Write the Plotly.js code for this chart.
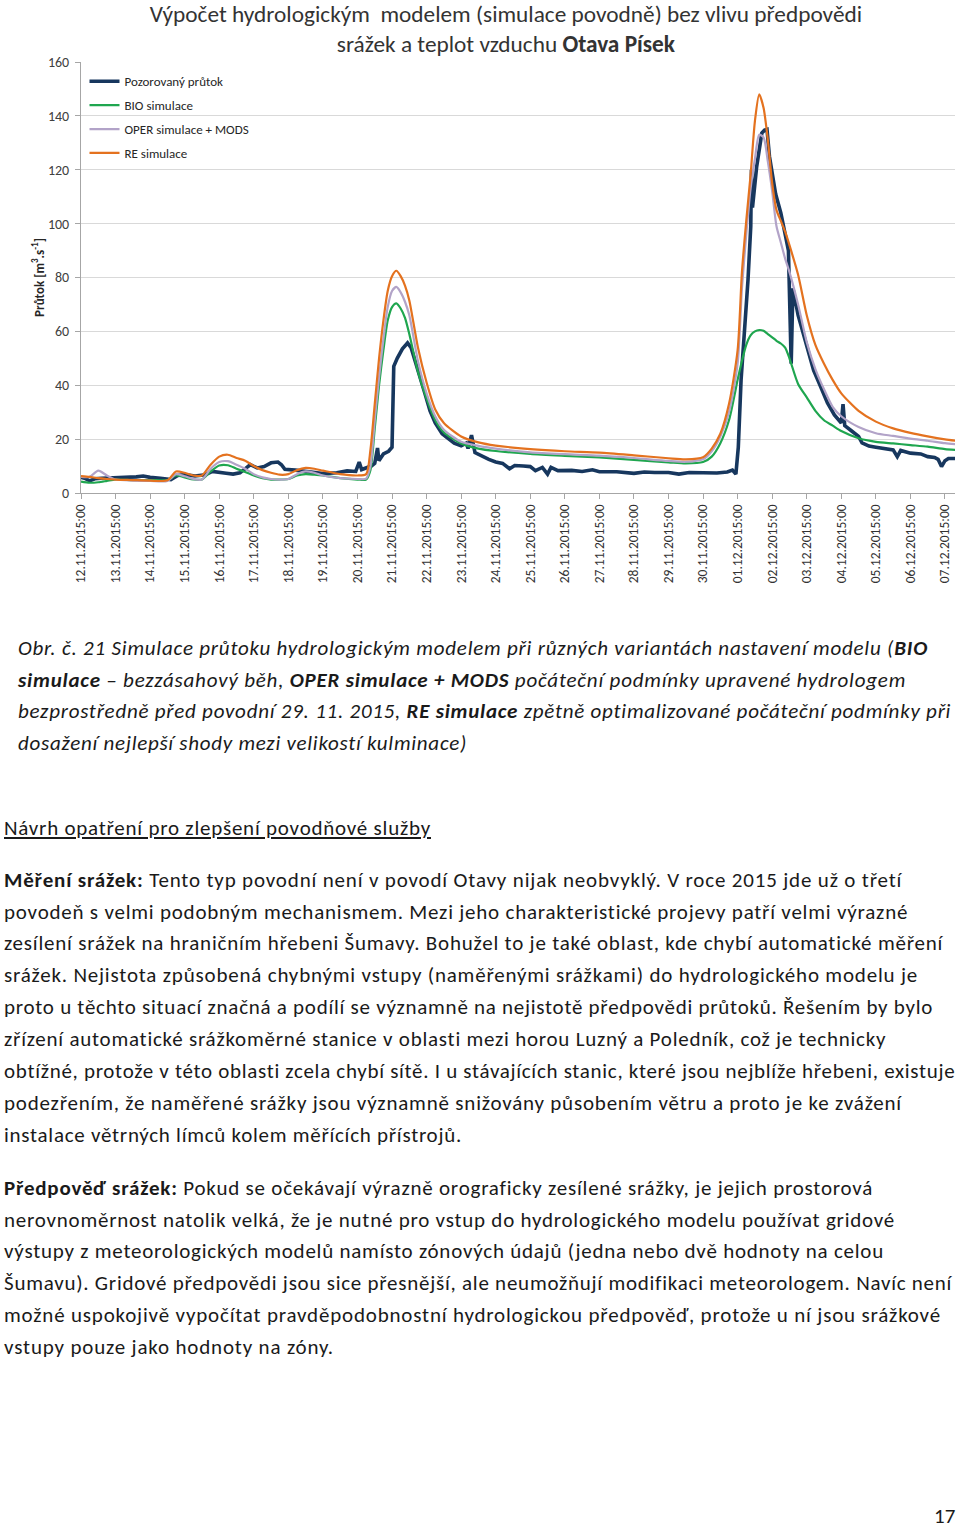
<!DOCTYPE html>
<html>
<head>
<meta charset="utf-8">
<script src="https://cdn.plot.ly/plotly-3.0.1.min.js"></script>
<style>
  html, body { margin: 0; padding: 0; background: #fff; }
  body { width: 960px; height: 1526px; position: relative; overflow: hidden; }
  #chart { position: absolute; left: 0; top: 0; width: 960px; height: 600px; }
  .ln { position: absolute; left: 4px; white-space: nowrap; font-family: Carlito, Calibri, Lato, sans-serif; font-size: 21px; color: #1a1a1a; line-height: 24px; }
  .cap { left: 18px; font-style: italic; }
  .u { text-decoration: underline; }
</style>
</head>
<body>
<div id="chart"></div>

<div class="ln cap" data-end="928" style="top:636px">Obr. č. 21 Simulace průtoku hydrologickým modelem při různých variantách nastavení modelu (<b>BIO</b></div>
<div class="ln cap" data-end="906" style="top:668px"><b>simulace</b> – bezzásahový běh, <b>OPER simulace + MODS</b> počáteční podmínky upravené hydrologem</div>
<div class="ln cap" data-end="951" style="top:699px">bezprostředně před povodní 29. 11. 2015, <b>RE simulace</b> zpětně optimalizované počáteční podmínky při</div>
<div class="ln cap" data-end="467" style="top:731px">dosažení nejlepší shody mezi velikostí kulminace)</div>

<div class="ln u" data-end="431" style="top:816px">Návrh opatření pro zlepšení povodňové služby</div>

<div class="ln" data-end="902" style="top:868px"><b>Měření srážek:</b> Tento typ povodní není v povodí Otavy nijak neobvyklý. V roce 2015 jde už o třetí</div>
<div class="ln" data-end="908" style="top:900px">povodeň s velmi podobným mechanismem. Mezi jeho charakteristické projevy patří velmi výrazné</div>
<div class="ln" data-end="943" style="top:931px">zesílení srážek na hraničním hřebeni Šumavy. Bohužel to je také oblast, kde chybí automatické měření</div>
<div class="ln" data-end="918" style="top:963px">srážek. Nejistota způsobená chybnými vstupy (naměřenými srážkami) do hydrologického modelu je</div>
<div class="ln" data-end="933" style="top:995px">proto u těchto situací značná a podílí se významně na nejistotě předpovědi průtoků. Řešením by bylo</div>
<div class="ln" data-end="886" style="top:1027px">zřízení automatické srážkoměrné stanice v oblasti mezi horou Luzný a Poledník, což je technicky</div>
<div class="ln" data-end="955" style="top:1059px">obtížné, protože v této oblasti zcela chybí sítě. I u stávajících stanic, které jsou nejblíže hřebeni, existuje</div>
<div class="ln" data-end="902" style="top:1091px">podezřením, že naměřené srážky jsou významně snižovány působením větru a proto je ke zvážení</div>
<div class="ln" data-end="462" style="top:1123px">instalace větrných límců kolem měřících přístrojů.</div>

<div class="ln" data-end="873" style="top:1176px"><b>Předpověď srážek:</b> Pokud se očekávají výrazně orograficky zesílené srážky, je jejich prostorová</div>
<div class="ln" data-end="895" style="top:1208px">nerovnoměrnost natolik velká, že je nutné pro vstup do hydrologického modelu používat gridové</div>
<div class="ln" data-end="884" style="top:1239px">výstupy z meteorologických modelů namísto zónových údajů (jedna nebo dvě hodnoty na celou</div>
<div class="ln" data-end="952" style="top:1271px">Šumavu). Gridové předpovědi jsou sice přesnější, ale neumožňují modifikaci meteorologem. Navíc není</div>
<div class="ln" data-end="941" style="top:1303px">možné uspokojivě vypočítat pravděpodobnostní hydrologickou předpověď, protože u ní jsou srážkové</div>
<div class="ln" data-end="334" style="top:1335px">vstupy pouze jako hodnoty na zóny.</div>

<div class="ln" style="top:1507px; left:934px; line-height:18px">17</div>

<script>
// ---- data (time in days after 12.11.2015 00:00, flow in m3/s) ----
const tickLabels = ["12.11.2015:00","13.11.2015:00","14.11.2015:00","15.11.2015:00","16.11.2015:00",
  "17.11.2015:00","18.11.2015:00","19.11.2015:00","20.11.2015:00","21.11.2015:00","22.11.2015:00",
  "23.11.2015:00","24.11.2015:00","25.11.2015:00","26.11.2015:00","27.11.2015:00","28.11.2015:00",
  "29.11.2015:00","30.11.2015:00","01.12.2015:00","02.12.2015:00","03.12.2015:00","04.12.2015:00",
  "05.12.2015:00","06.12.2015:00","07.12.2015:00"];

const seriesNames = ["Pozorovaný průtok", "BIO simulace", "OPER simulace + MODS", "RE simulace"];

const simDay = [0,0.25,0.5,0.75,1,1.5,2,2.5,2.75,3,3.25,3.5,3.75,4,4.25,4.5,4.75,5,5.25,5.5,5.75,6,6.25,6.5,6.75,7,7.5,8,8.25,
  8.375,8.5,8.625,8.75,8.875,9,9.125,9.25,9.375,9.5,9.75,10,10.25,10.5,11,11.5,12,13,14,15,16,17,17.5,18,18.25,18.5,18.75,
  19,19.125,19.25,19.375,19.5,19.625,19.75,19.875,20,20.125,20.25,20.375,20.5,20.75,21,21.25,21.5,21.75,22,22.5,23,23.5,24,24.5,25,25.3];

const reSim = [6.3,6.0,5.5,5.2,5.0,4.8,4.6,4.7,8.0,7.5,6.5,6.5,10.5,13.5,14.2,13.0,12.0,10.0,8.5,7.5,6.8,7.0,8.5,9.3,9.0,8.3,7.0,6.5,7.0,
  16,33,50,64,75,80.5,82.5,80.5,77,71.5,54,41,31,26,21,18.8,17.6,16.3,15.5,15.0,14.0,12.9,12.5,13.3,16.5,22,33,
  53,82,101,118,138,148,143,131,115,105,101,97,92,81,66,55,48,42,37,30.5,26.5,24,22.3,21,19.9,19.4];

const operSim = [6.0,6.0,8.3,6.5,5.0,4.6,4.5,4.5,7.0,6.2,5.2,5.0,9.0,11.5,11.8,10.5,9.0,7.0,5.8,5.2,5.0,5.2,7.0,8.0,7.5,6.5,5.5,5.2,5.3,
  10,27,43,57,69,75,76.5,74.5,71,66,49,37,28.5,23.5,19,17.5,16.5,15.1,14.4,13.9,13.0,11.9,11.6,12.5,15.5,21,30,
  48,76,96,113,124,133,132,123,112,99,93,87,82,70,56,46,38.5,32,28.5,24.5,22.2,21.2,20.2,19.4,18.5,18.1];

const bioSim = [4.2,3.8,4.0,4.5,5.0,4.8,4.8,4.8,6.5,5.8,5.0,5.0,8.0,10.2,10.3,9.0,7.8,6.5,5.5,5.0,5.0,5.2,6.5,7.0,6.8,6.5,5.5,5.0,5.0,
  8.5,24,40,53,64,69,70.4,68.5,65,59,45,35,27,22.5,18.4,16.5,15.6,14.5,13.8,13.2,12.3,11.4,11.0,11.5,13.5,18.5,27,
  42,49,55,58.5,60,60.5,60.2,59,57.8,56.5,55.5,54,50,40.5,35.5,30.5,27,25,23,20.3,19,18.4,17.8,17.2,16.3,16.0];

const obsDay = [0,0.1,0.25,0.4,0.6,0.8,1,1.3,1.6,1.8,2,2.3,2.6,2.8,3,3.3,3.6,3.8,4,4.2,4.4,4.6,4.8,4.9,5.1,5.3,5.5,5.7,5.8,5.9,
  6.2,6.6,7,7.4,7.7,7.95,8.05,8.12,8.3,8.4,8.5,8.58,8.62,8.75,8.9,9.0,9.05,9.15,9.3,9.45,9.55,9.75,9.95,10.1,10.25,10.45,10.6,10.8,
  11,11.15,11.2,11.3,11.4,11.55,11.8,12,12.2,12.4,12.55,12.8,13,13.15,13.35,13.5,13.6,13.8,14.2,14.5,14.8,15,15.5,16,16.3,16.6,
  17,17.3,17.6,18,18.4,18.7,18.85,18.95,19.02,19.1,19.2,19.3,19.38,19.4,19.43,19.55,19.7,19.78,19.85,19.92,20.1,20.25,20.4,20.47,
  20.55,20.6,20.75,21,21.2,21.4,21.6,21.8,22,22.05,22.1,22.3,22.5,22.6,22.8,23,23.3,23.5,23.62,23.72,24,24.3,24.5,24.7,24.8,24.9,
  25,25.1,25.3];

const obsFlow = [5.8,5.5,4.5,5.3,5.5,5.6,5.5,5.8,6.0,6.3,5.8,5.5,5.0,6.5,6.8,6.3,6.8,8.0,7.8,7.3,7.0,7.5,9.5,10.5,9.3,9.8,11.2,11.5,10.5,8.8,
  8.5,8.0,7.2,7.5,8.2,8.0,11.5,8.7,9.5,10.0,11,16.7,12,14.5,15.5,17,47,50,53.5,55.7,54,45,37,30.5,26,22,20.5,18.5,
  17.5,18.5,16.5,21.5,15,14,12.5,11.5,11.0,9.0,10.2,10.0,9.8,8.3,9.5,7.0,9.5,8.3,8.4,8.0,8.6,7.9,7.9,7.3,7.8,7.6,
  7.6,7.0,7.6,7.5,7.4,7.8,8.5,7.0,17,42,60,79,99,120,106,121,133.6,134.7,135,125,111,104,94.5,90,
  48,76,66,55,45.5,39.5,33.4,29,26,33,25,23,21,18.6,17.4,17,16.5,16.0,13.5,15.8,14.8,14.5,13.5,13.2,12.5,9.8,
  12,12.8,12.8];

// ---- plotting ----
const base = Date.UTC(2015, 10, 12);
const DAY = 864e5;
const toT = arr => arr.map(d => base + d * DAY);

const font = "Carlito, Calibri, Lato, sans-serif";
const traces = [
  { x: toT(obsDay), y: obsFlow, name: seriesNames[0], mode: "lines", legendgroup: "a",
    line: { color: "#17375e", width: 3.6 } },
  { x: toT(simDay), y: bioSim, name: seriesNames[1], mode: "lines", legendgroup: "b",
    line: { color: "#1fa64f", width: 2.2, shape: "spline", smoothing: 0.7 } },
  { x: toT(simDay), y: operSim, name: seriesNames[2], mode: "lines", legendgroup: "c",
    line: { color: "#b2a3c8", width: 2.2, shape: "spline", smoothing: 0.7 } },
  { x: toT(simDay), y: reSim, name: seriesNames[3], mode: "lines", legendgroup: "d",
    line: { color: "#e4721f", width: 2.2, shape: "spline", smoothing: 0.7 } }
];

const tickvals = tickLabels.map((_, i) => base + i * DAY);

const layout = {
  width: 960, height: 600,
  margin: { l: 81, r: 5, t: 62, b: 107 },
  paper_bgcolor: "#fff", plot_bgcolor: "#fff",
  font: { family: font, color: "#404040" },
  title: {
    text: "Výpočet hydrologickým  modelem (simulace povodně) bez vlivu předpovědi<br>srážek a teplot vzduchu <b>Otava Písek</b>",
    font: { family: font, size: 23.3, color: "#333", weight: 300 },
    x: 0.527, xanchor: "center", xref: "container",
    y: 0.963, yanchor: "top", yref: "container"
  },
  showlegend: true,
  legend: {
    x: 0.004, y: 0.99, xanchor: "left", yanchor: "top",
    bgcolor: "rgba(255,255,255,0)", font: { family: font, size: 13, color: "#262626" },
    tracegroupgap: 4, traceorder: "grouped"
  },
  xaxis: {
    type: "date",
    range: [base, base + 25.29 * DAY],
    tickmode: "array", tickvals: tickvals, ticktext: tickLabels,
    tickangle: -90, tickfont: { family: font, size: 13.5, color: "#333" },
    showgrid: false, zeroline: false,
    showline: true, linecolor: "#a6a6a6", linewidth: 1,
    ticks: "outside", ticklen: 5, tickcolor: "#a6a6a6"
  },
  yaxis: {
    range: [0, 160], dtick: 20, tick0: 0,
    tickfont: { family: font, size: 14, color: "#404040" },
    ticklabelstandoff: 3,
    showgrid: true, gridcolor: "#d9d9d9", gridwidth: 1, zeroline: false,
    showline: true, linecolor: "#a6a6a6", linewidth: 1,
    ticks: "outside", ticklen: 5, tickcolor: "#a6a6a6",
    title: { text: "<b>Průtok [m<sup>3</sup>.s<sup>-1</sup>]</b>", font: { family: font, size: 13, color: "#262626" }, standoff: 0 }
  }
};

Plotly.newPlot("chart", traces, layout, { staticPlot: true, displayModeBar: false });

// fit each text line to the width it has in the reference page
function fitLines() {
  document.querySelectorAll(".ln[data-end]").forEach(el => {
    el.style.letterSpacing = "0px";
    const left = el.offsetLeft;
    const target = parseFloat(el.dataset.end) - left;
    const w = el.getBoundingClientRect().width;
    const n = el.textContent.length;
    if (n > 1) el.style.letterSpacing = ((target - w) / n).toFixed(3) + "px";
  });
}
if (document.fonts && document.fonts.ready) document.fonts.ready.then(fitLines); else fitLines();
fitLines();
</script>
</body>
</html>
